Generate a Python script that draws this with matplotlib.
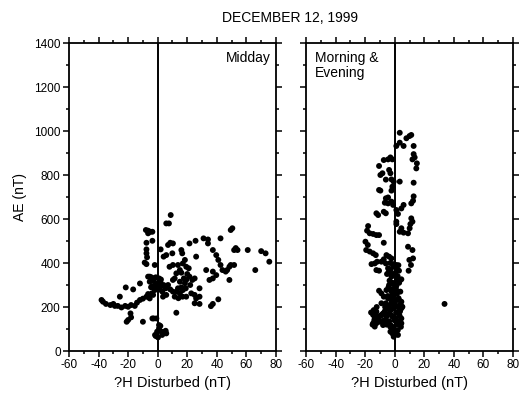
import numpy as np
import matplotlib.pyplot as plt
from matplotlib.ticker import MultipleLocator

plt.rcParams['font.family'] = ['Liberation Sans', 'DejaVu Sans']
plt.rcParams['axes.unicode_minus'] = False

# Midday: (dH disturbed, AE)
mid_x = [-38, -37, -35, -32, -30, -29, -27, -24.5, -22, -20, -18, -15.5, -14, -12, -10, -7.6,
         -6.5, -4, -2, -1, -25.6, -21.6, -16.6, -12,
         -21, -20, -18, -18.4, -10, -3.6, -2.7, -0.9,
         -1.8, -0.4, 0.9, 2.5, 3.6, 4.7, 5.8, 0.9, 1.8, -1.3, 0.2, 3, 5.4,
         -8, -6.5, -5, -6.5, -3.6, -7.6, -3.6, -7.6, -7.6, -7.2, -8.8, -7.6, -6.5, -5.4,
         -4.3, -2.7, -1.3, -2, -5.4, -0.9, -3.6, -2, -6.5, -5.4, -3.1,
         0.9, 1.8, 2.5, 1.3, 3.1, 3.6, 2, 4, 5.8, 5.8, 7.6, 8.8, 7, 8.5, 9.9, 8, 10.3,
         7, 8.5, 5.4, 5.8, 10.3, 11.5, 12.6,
         13.7, 15, 16, 17, 16, 16.6, 18.4, 19.3, 21, 17.7, 19.3, 21.5, 23.4, 25, 13.7,
         16, 17, 19, 15, 16.8, 19.3, 22.7, 25, 26, 10.3, 12.6, 11.5, 15, 18.4, 10.3,
         21.5, 25.6, 26, 28.3, 28.3, 25, 28.3,
         31, 34, 34, 37.3, 39.6, 41, 42.5, 43.8, 32.8, 37.3, 39.6, 35, 37.3, 36, 37.3,
         41, 42.5, 48.5, 47, 46, 49.4, 51.7, 48.5, 49.4, 50.5, 51.7, 52.8, 54, 60.9,
         66, 70, 73, 75.5,
         -3, -1.5, 1, 2.2, 4, -4.5, 13, 22, 20, 14]
mid_y = [232, 224, 214, 209, 214, 205, 205, 198, 205, 201, 209, 205, 220, 232, 238, 247,
         259, 262, 277, 285, 247, 289, 280, 307,
         133, 141, 153, 171, 133, 148, 148, 148,
         73, 88, 103, 88, 80, 88, 80, 118, 114, 68, 62, 73, 92,
         550, 547, 542, 535, 542, 492, 501, 462, 444, 426, 402, 395, 338, 338,
         335, 330, 335, 391, 315, 308, 295, 285, 247, 239, 255,
         330, 315, 295, 280, 270, 247, 462, 429, 436, 580, 580, 618, 482, 492, 444, 383, 323,
         300, 280, 285, 255, 270, 247, 174,
         391, 368, 356, 398, 459, 444, 414, 383, 376, 330, 323, 338, 323, 330, 285,
         289, 277, 285, 262, 247, 247, 262, 255, 239, 391, 353, 330, 315, 308, 489,
         489, 501, 429, 285, 247, 217, 214,
         512, 507, 489, 459, 436, 414, 391, 368, 368, 361, 345, 323, 330, 204, 214,
         235, 512, 383, 368, 361, 391, 391, 323, 550, 558, 459, 468, 459, 459,
         368, 454, 444, 406,
         320, 300, 310, 325, 300, 290, 270, 300, 350, 240]

# Morning & Evening: (dH disturbed, AE)
me_x = [3.4, 1.1, 3.4, 6, 7.9, 10, 11.2, 12.8, 12.8, 13.5, 15, 14.6, 12, 3.4, 12.8,
        -10.6, -7.4, -4.5, -2.9, -1.6, -3.8, -9.7, -8.3, -2.9, -6, -2.2, -0.7, -1.6,
        -10.6, -9.7, -2.2, -6, -4.5, 12.8,
        -6.7, -4.5, -2.2, -1.1, 6, 11.2, 12.4, -12.4, -11.2, -7.4, -6, 1.1, 2.2, 4.5,
        1.1, 1.1, 11.2, 12, 10.6, -18, -18.7, -16.9, -14.6, -12.4, -10.6, 4.5, 3.4, 6,
        9, 10.1, -19.8, -18.2, -19.3, -16.9, -14.6, -12.8, -7.4, -15.7, -13.5, -11.9,
        -12.4, -10.6, -9, -7.4, -5.6, -3.8, -2.2, -6, -4.5, -2.9, -1.1, 1.1, 1.6, 9,
        12, 12.4, 9.9, 11, 9.4, 2.9, -5.2, -2.2, 0, 1.6, 3.4, 4.5, -1.6, 0, 1.1, -3.8,
        -5.6, -2.2, 1.1, -10.6, -9, -7.4, -4.5, -2.2, -0.7, -6, -3.8, -2.2, -9, 2.9,
        4.5, 3.4, 5.2, -14.2, -12.4, -14.6, -13.5, -14.6, -11.2, -9, -7.4, -5.6, -3.4,
        -1.6, -10.1, -7.9, -5.6, -3.4, -1.6, 0, 2.2, -0.7, 1.1, 2.9, 4.5, 4.5, 4.5,
        33.7, -12.4, -13.5, -2.9, -1.6,
        -3, -1, 1, 2.5, -4, -2, 0.5, 2, -3.5, -1.5, 0.8, 3, -2.5, -0.5, 1.5, 3.8,
        -4.8, -3.2, -1.2, 0.3, 2.6, -6.5, -4, -2.8, -0.8, 1.8, 4, -8, -5, -1.8, 0.6,
        3.3, -11, -7, -3.7, -0.3, 2.4, -12, -8.5, -5.5, -2.3, 1.3, 4.2, -13, -9.5,
        -6.8, -3, -0.6, 2.1, -4.2, -2.1, 0.2, 3.6, -1.3, 0.9, -15, -16, -13.8, -12.2]
me_y = [992, 932, 947, 932, 967, 977, 982, 932, 895, 880, 853, 830, 871, 770, 765,
        841, 868, 871, 880, 871, 823, 800, 808, 808, 779, 780, 770, 747,
        732, 729, 729, 694, 698, 703,
        674, 671, 679, 664, 664, 671, 683, 626, 618, 633, 626, 641, 623, 648,
        588, 577, 603, 588, 577, 568, 547, 535, 532, 527, 527, 558, 542, 538,
        535, 558, 497, 482, 459, 452, 444, 436, 492, 395, 398, 406,
        368, 365, 406, 417, 436, 429, 421, 398, 376, 368, 383, 391, 368, 474,
        459, 421, 414, 391, 365, 365, 350, 338, 345, 323, 320, 326, 308, 289, 295, 300,
        277, 270, 277, 274, 262, 247, 239, 247, 232, 217, 205, 217, 217, 232,
        224, 209, 201, 186, 179, 164, 148, 126, 156, 164, 171, 156, 171,
        156, 133, 118, 133, 118, 103, 88, 73, 65, 141, 179, 194, 148, 126,
        214, 126, 111, 88, 80,
        400, 395, 380, 390, 360, 350, 355, 340, 320, 310, 300, 310, 280, 265, 260, 270,
        250, 240, 230, 225, 240, 200, 190, 185, 195, 200, 210, 170, 165, 160, 150,
        160, 150, 140, 135, 140, 130, 145, 135, 120, 115, 120, 110, 170, 160,
        180, 110, 100, 95, 290, 220, 210, 180, 250, 175, 120, 175, 140, 200]

fig = plt.figure(figsize=(5.2, 3.96), dpi=100)
ax1 = fig.add_axes([0.1327, 0.1136, 0.398, 0.7778])
ax2 = fig.add_axes([0.5885, 0.1136, 0.398, 0.7778])

for ax, xs, ys in [(ax1, mid_x, mid_y), (ax2, me_x, me_y)]:
    ax.axvline(0, color='black', lw=1.4, zorder=1)
    ax.scatter(xs, ys, s=18, color='black', edgecolors='none', zorder=2)
    ax.set_xlim(-60, 80)
    ax.set_ylim(0, 1400)
    ax.xaxis.set_major_locator(MultipleLocator(20))
    ax.xaxis.set_minor_locator(MultipleLocator(10))
    ax.yaxis.set_major_locator(MultipleLocator(200))
    ax.yaxis.set_minor_locator(MultipleLocator(100))
    ax.tick_params(which='both', direction='out', top=True, right=True,
                   labelsize=8.5, width=1.1, pad=2)
    ax.tick_params(which='major', length=4)
    ax.tick_params(which='minor', length=2.5)
    for sp in ax.spines.values():
        sp.set_linewidth(1.3)
    ax.set_xlabel('?H Disturbed (nT)', fontsize=10.5, labelpad=3)

ax2.tick_params(labelleft=False)
ax1.set_ylabel('AE (nT)', fontsize=10, labelpad=5)

ax1.text(0.975, 0.975, 'Midday', transform=ax1.transAxes, ha='right', va='top', fontsize=10)
ax2.text(0.045, 0.975, 'Morning &\nEvening', transform=ax2.transAxes, ha='left', va='top',
         fontsize=10, linespacing=1.1)

fig.text(0.557, 0.955, 'DECEMBER 12, 1999', ha='center', va='center', fontsize=10)

fig.savefig('out.png', dpi=100)
